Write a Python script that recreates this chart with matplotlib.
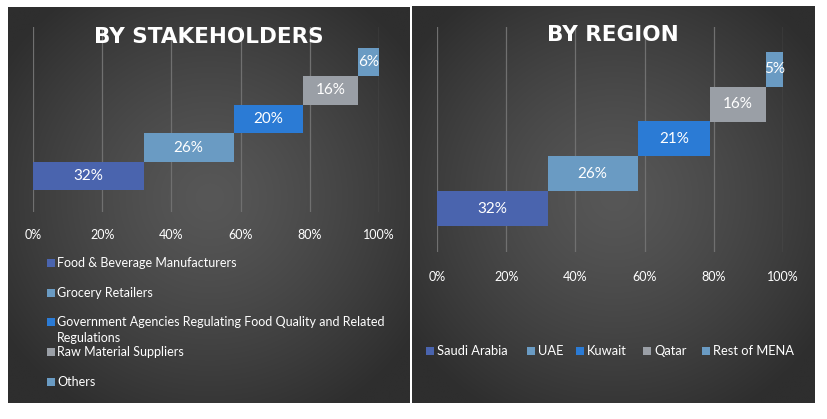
import numpy as np
import matplotlib
matplotlib.use("Agg")
import matplotlib.pyplot as plt
from matplotlib.patches import Rectangle

# ---------------- data ----------------
stake_labels = ["Food & Beverage Manufacturers", "Grocery Retailers",
                "Government Agencies Regulating Food Quality and Related\nRegulations",
                "Raw Material Suppliers", "Others"]
stake_values = [32, 26, 20, 16, 6]
region_labels = ["Saudi Arabia", "UAE", "Kuwait", "Qatar", "Rest of MENA"]
region_values = [32, 26, 21, 16, 5]
tick_vals = [0, 20, 40, 60, 80, 100]
tick_labels = ["0%", "20%", "40%", "60%", "80%", "100%"]
colors = ["#4a64ae", "#6a9bc3", "#2b7bd5", "#9a9fa6", "#6a9bc3"]

W, H = 827, 419
fig = plt.figure(figsize=(W / 100, H / 100), dpi=100)
fig.patch.set_facecolor("white")

FONT = "Lato"


def px_rect(x0, y0, x1, y1):
    return [x0 / W, 1 - y1 / H, (x1 - x0) / W, (y1 - y0) / H]


def panel_bg(x0, y0, x1, y1):
    bg = fig.add_axes(px_rect(x0, y0, x1, y1), zorder=0)
    ny, nx = 200, 200
    yy, xx = np.mgrid[0:ny, 0:nx]
    cx, cy = nx * 0.5, ny * 0.48
    r = np.sqrt(((xx - cx) / (nx * 0.62)) ** 2 + ((yy - cy) / (ny * 0.62)) ** 2)
    r = np.clip(r, 0, 1)
    c0, c1 = 0x57 / 255, 0x2e / 255
    v = c0 + (c1 - c0) * r ** 1.3
    img = np.dstack([v, v, v])
    bg.imshow(img, aspect="auto", extent=[0, 1, 0, 1], interpolation="bilinear")
    bg.set_axis_off()


def chart(x0, x1, ytop, ybot, row0_center, row_h, values, title, title_xy, tick_y):
    ax = fig.add_axes(px_rect(x0, ytop, x1, ybot), zorder=2)
    ax.set_facecolor("none")
    ax.set_xlim(0, 100)
    ax.set_ylim(-(ybot - row0_center) / row_h, (row0_center - ytop) / row_h)
    lefts = np.concatenate([[0], np.cumsum(values)[:-1]])
    for t in tick_vals:
        ax.axvline(t, color="#707070", lw=0.9, zorder=1)
    ax.barh(np.arange(len(values)), values, left=lefts, height=1.0,
            color=colors, zorder=3, linewidth=0)
    for i, (l, v) in enumerate(zip(lefts, values)):
        ax.text(l + v / 2, i, f"{v}%", ha="center", va="center", color="white",
                fontsize=11, family=FONT, zorder=4)
    ax.set_xticks(tick_vals)
    ax.set_xticklabels(tick_labels, family=FONT, fontsize=9, color="white")
    ax.tick_params(axis="x", length=0, pad=tick_y - ybot - 6)
    ax.set_yticks([])
    for s in ax.spines.values():
        s.set_visible(False)
    fig.text(title_xy[0] / W, 1 - title_xy[1] / H, title, ha="center", va="center",
             color="white", fontsize=15.5, fontweight="bold", family="DejaVu Sans")
    return ax


panel_bg(8, 7, 410, 403)
panel_bg(412, 6, 815, 403)

chart(33, 379, 27, 212, 176, 28.5, stake_values, "BY STAKEHOLDERS", (209, 37), 230)
chart(437, 783, 27, 252, 208.5, 34.8, region_values, "BY REGION", (613, 35), 272)

# left legend (vertical)
leg_y = [263, 293, 322, 352, 382]
for lab, c, y in zip(stake_labels, colors, leg_y):
    fig.patches.append(Rectangle((47 / W, 1 - (y + 4) / H), 8 / W, 8 / H,
                                 transform=fig.transFigure, facecolor=c,
                                 edgecolor="none", zorder=5))
    for k, line in enumerate(lab.split("\n")):
        fig.text(57 / W, 1 - (y + 16 * k) / H, line, ha="left", va="center",
                 color="white", fontsize=9, family=FONT, zorder=5)

# right legend (single row)
leg_x = [426, 527, 576, 643, 702]
for lab, c, x in zip(region_labels, colors, leg_x):
    y = 351
    fig.patches.append(Rectangle((x / W, 1 - (y + 4) / H), 8 / W, 8 / H,
                                 transform=fig.transFigure, facecolor=c,
                                 edgecolor="none", zorder=5))
    fig.text((x + 11) / W, 1 - y / H, lab, ha="left", va="center",
             color="white", fontsize=9.3, family=FONT, zorder=5)

fig.savefig("out.png", dpi=100, facecolor="white")
